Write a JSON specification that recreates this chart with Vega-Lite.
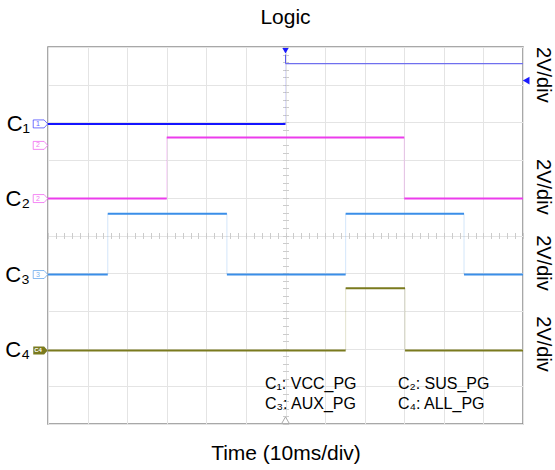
{
  "$schema": "https://vega.github.io/schema/vega-lite/v6.json",
  "width": 475,
  "height": 377,
  "autosize": "none",
  "padding": {"left": 48, "top": 47, "right": 32, "bottom": 46},
  "config": {"view": {"stroke": "#8c8c8c", "strokeWidth": 1.5}, "font": "Liberation Sans"},
  "title": {"text": "Logic", "fontSize": 21, "fontWeight": "normal", "font": "Liberation Sans", "color": "#000000", "offset": 19},
  "datasets": {
    "seg": [
      {"ch": "C1", "x1": -6, "x2": 0, "y": 2.96},
      {"ch": "C1b", "x1": 0, "x2": 6, "y": 4.56},
      {"ch": "C2", "x1": -6, "x2": -3, "y": 0.98},
      {"ch": "C2", "x1": -3, "x2": 3, "y": 2.6},
      {"ch": "C2", "x1": 3, "x2": 6, "y": 0.98},
      {"ch": "C3", "x1": -6, "x2": -4.49, "y": -1.035},
      {"ch": "C3", "x1": -4.49, "x2": -1.48, "y": 0.58},
      {"ch": "C3", "x1": -1.48, "x2": 1.52, "y": -1.035},
      {"ch": "C3", "x1": 1.52, "x2": 4.51, "y": 0.58},
      {"ch": "C3", "x1": 4.51, "x2": 6, "y": -1.035},
      {"ch": "C4", "x1": -6, "x2": 1.52, "y": -3.05},
      {"ch": "C4", "x1": 1.52, "x2": 3.02, "y": -1.4},
      {"ch": "C4", "x1": 3.02, "x2": 6, "y": -3.05}
    ],
    "edge": [
      {"ch": "C1b", "x": 0, "y1": 2.96, "y2": 4.56},
      {"ch": "C2", "x": -3, "y1": 0.98, "y2": 2.6},
      {"ch": "C2", "x": 3, "y1": 0.98, "y2": 2.6},
      {"ch": "C3", "x": -4.49, "y1": -1.035, "y2": 0.58},
      {"ch": "C3", "x": -1.48, "y1": -1.035, "y2": 0.58},
      {"ch": "C3", "x": 1.52, "y1": -1.035, "y2": 0.58},
      {"ch": "C3", "x": 4.51, "y1": -1.035, "y2": 0.58},
      {"ch": "C4", "x": 1.52, "y1": -3.05, "y2": -1.4},
      {"ch": "C4", "x": 3.02, "y1": -3.05, "y2": -1.4}
    ],
    "vdiv": [
      {"lab": "2V/div", "y": 4.26},
      {"lab": "2V/div", "y": 1.29},
      {"lab": "2V/div", "y": -0.73},
      {"lab": "2V/div", "y": -2.88}
    ],
    "names": [
      {"lab": "C₁", "y": 2.96},
      {"lab": "C₂", "y": 0.98},
      {"lab": "C₃", "y": -1.035},
      {"lab": "C₄", "y": -3.05}
    ],
    "legend": [
      {"lab": "C₁: VCC_PG", "x": -0.52, "y": -3.95},
      {"lab": "C₂: SUS_PG", "x": 2.84, "y": -3.95},
      {"lab": "C₃: AUX_PG", "x": -0.52, "y": -4.47},
      {"lab": "C₄: ALL_PG", "x": 2.84, "y": -4.47}
    ],
    "tags": [
      {"ch": "C1", "y": 2.96, "t": "1"},
      {"ch": "C2", "y": 2.39, "t": "2"},
      {"ch": "C2", "y": 0.98, "t": "2"},
      {"ch": "C3", "y": -1.035, "t": "3"}
    ],
    "one": [{"k": 1}]
  },
  "resolve": {"axis": {"x": "independent", "y": "independent"}},
  "layer": [
    {
      "data": {"name": "edge"},
      "mark": {"type": "rule", "strokeWidth": 1, "opacity": 0.22},
      "encoding": {
        "x": {"field": "x", "type": "quantitative", "scale": {"domain": [-6, 6], "nice": false, "zero": false},
          "axis": {"values": [-6, -5, -4, -3, -2, -1, 0, 1, 2, 3, 4, 5, 6], "grid": true, "gridColor": "#e4e4e4", "gridWidth": 1, "labels": false, "ticks": false, "domain": false,
            "title": "Time (10ms/div)", "titleFontSize": 21, "titleFontWeight": "normal", "titleFont": "Liberation Sans", "titleColor": "#000000", "titlePadding": 18}},
        "y": {"field": "y1", "type": "quantitative", "scale": {"domain": [-5, 5], "nice": false, "zero": false},
          "axis": {"values": [-5, -4, -3, -2, -1, 0, 1, 2, 3, 4, 5], "grid": true, "gridColor": "#e4e4e4", "gridWidth": 1, "labels": false, "ticks": false, "domain": false, "title": null}},
        "y2": {"field": "y2"},
        "color": {"field": "ch", "type": "nominal", "scale": {"domain": ["C1", "C1b", "C2", "C3", "C4"], "range": ["#1414ff", "#6f6fee", "#ec3cec", "#3a8ee8", "#7a7a1e"]}, "legend": null}
      }
    },
    {
      "data": {"name": "seg"},
      "mark": {"type": "rule"},
      "encoding": {
        "x": {"field": "x1", "type": "quantitative",
          "axis": {"orient": "bottom", "offset": -188.5, "values": [-6,-5.8,-5.6,-5.4,-5.2,-5,-4.8,-4.6,-4.4,-4.2,-4,-3.8,-3.6,-3.4,-3.2,-3,-2.8,-2.6,-2.4,-2.2,-2,-1.8,-1.6,-1.4,-1.2,-1,-0.8,-0.6,-0.4,-0.2,0,0.2,0.4,0.6,0.8,1,1.2,1.4,1.6,1.8,2,2.2,2.4,2.6,2.8,3,3.2,3.4,3.6,3.8,4,4.2,4.4,4.6,4.8,5,5.2,5.4,5.6,5.8,6], "grid": false, "labels": false, "domain": false, "ticks": true, "tickSize": 3, "tickColor": "#cccccc", "title": null}},
        "x2": {"field": "x2"},
        "y": {"field": "y", "type": "quantitative",
          "axis": {"orient": "left", "offset": -237.5, "values": [-5,-4.8,-4.6,-4.4,-4.2,-4,-3.8,-3.6,-3.4,-3.2,-3,-2.8,-2.6,-2.4,-2.2,-2,-1.8,-1.6,-1.4,-1.2,-1,-0.8,-0.6,-0.4,-0.2,0,0.2,0.4,0.6,0.8,1,1.2,1.4,1.6,1.8,2,2.2,2.4,2.6,2.8,3,3.2,3.4,3.6,3.8,4,4.2,4.4,4.6,4.8,5], "grid": false, "labels": false, "domain": false, "ticks": true, "tickSize": 3, "tickColor": "#cccccc", "title": null}},
        "color": {"field": "ch", "type": "nominal", "legend": null},
        "strokeWidth": {"condition": {"test": "datum.ch === 'C1b'", "value": 1.2}, "value": 2}
      }
    },
    {
      "data": {"name": "legend"},
      "mark": {"type": "text", "align": "left", "baseline": "middle", "fontSize": 16, "font": "Liberation Sans", "color": "#000000"},
      "encoding": {
        "x": {"field": "x", "type": "quantitative",
          "axis": {"orient": "top", "offset": -188.5, "values": [-6,-5.8,-5.6,-5.4,-5.2,-5,-4.8,-4.6,-4.4,-4.2,-4,-3.8,-3.6,-3.4,-3.2,-3,-2.8,-2.6,-2.4,-2.2,-2,-1.8,-1.6,-1.4,-1.2,-1,-0.8,-0.6,-0.4,-0.2,0,0.2,0.4,0.6,0.8,1,1.2,1.4,1.6,1.8,2,2.2,2.4,2.6,2.8,3,3.2,3.4,3.6,3.8,4,4.2,4.4,4.6,4.8,5,5.2,5.4,5.6,5.8,6], "grid": false, "labels": false, "domain": false, "ticks": true, "tickSize": 3, "tickColor": "#cccccc", "title": null}},
        "y": {"field": "y", "type": "quantitative",
          "axis": {"orient": "right", "offset": -237.5, "values": [-5,-4.8,-4.6,-4.4,-4.2,-4,-3.8,-3.6,-3.4,-3.2,-3,-2.8,-2.6,-2.4,-2.2,-2,-1.8,-1.6,-1.4,-1.2,-1,-0.8,-0.6,-0.4,-0.2,0,0.2,0.4,0.6,0.8,1,1.2,1.4,1.6,1.8,2,2.2,2.4,2.6,2.8,3,3.2,3.4,3.6,3.8,4,4.2,4.4,4.6,4.8,5], "grid": false, "labels": false, "domain": false, "ticks": true, "tickSize": 3, "tickColor": "#cccccc", "title": null}},
        "text": {"field": "lab"}
      }
    },
    {
      "data": {"name": "vdiv"},
      "mark": {"type": "text", "align": "center", "baseline": "middle", "angle": 90, "dy": -20, "fontSize": 20, "font": "Liberation Sans", "color": "#000000"},
      "encoding": {
        "x": {"datum": 6, "type": "quantitative", "axis": null},
        "y": {"field": "y", "type": "quantitative", "axis": null},
        "text": {"field": "lab"}
      }
    },
    {
      "data": {"name": "names"},
      "mark": {"type": "text", "align": "right", "baseline": "middle", "dx": -18, "fontSize": 22, "font": "Liberation Sans", "color": "#000000"},
      "encoding": {
        "x": {"datum": -6, "type": "quantitative", "axis": null},
        "y": {"field": "y", "type": "quantitative", "axis": null},
        "text": {"field": "lab"}
      }
    },
    {
      "data": {"name": "tags"},
      "mark": {"type": "point", "shape": "M-1,-0.55L0.5,-0.55L1,0L0.5,0.55L-1,0.55Z", "size": 210, "filled": false, "fill": "#ffffff", "fillOpacity": 1, "strokeWidth": 1, "strokeOpacity": 0.6},
      "encoding": {
        "x": {"datum": -6.19, "type": "quantitative", "axis": null},
        "y": {"field": "y", "type": "quantitative", "axis": null},
        "color": {"field": "ch", "type": "nominal", "legend": null}
      }
    },
    {
      "data": {"name": "tags"},
      "mark": {"type": "text", "align": "center", "baseline": "middle", "dx": -10, "fontSize": 7, "opacity": 0.7},
      "encoding": {
        "x": {"datum": -6, "type": "quantitative", "axis": null},
        "y": {"field": "y", "type": "quantitative", "axis": null},
        "color": {"field": "ch", "type": "nominal", "legend": null},
        "text": {"field": "t"}
      }
    },
    {
      "data": {"name": "one"},
      "mark": {"type": "point", "shape": "M-1,-0.55L0.5,-0.55L1,0L0.5,0.55L-1,0.55Z", "size": 210, "filled": true, "color": "#7a7a1e", "opacity": 1},
      "encoding": {
        "x": {"datum": -6.19, "type": "quantitative", "axis": null},
        "y": {"datum": -3.05, "type": "quantitative", "axis": null}
      }
    },
    {
      "data": {"name": "one"},
      "mark": {"type": "text", "text": "C4", "align": "center", "baseline": "middle", "dx": -10, "fontSize": 6, "fontWeight": "bold", "color": "#ffffff"},
      "encoding": {
        "x": {"datum": -6, "type": "quantitative", "axis": null},
        "y": {"datum": -3.05, "type": "quantitative", "axis": null}
      }
    },
    {
      "data": {"name": "one"},
      "mark": {"type": "point", "shape": "triangle-down", "size": 40, "filled": true, "color": "#1a1aff", "opacity": 1},
      "encoding": {
        "x": {"datum": 0, "type": "quantitative", "axis": null},
        "y": {"datum": 4.9, "type": "quantitative", "axis": null}
      }
    },
    {
      "data": {"name": "one"},
      "mark": {"type": "rule", "color": "#5a5aee", "strokeWidth": 1},
      "encoding": {
        "x": {"datum": 0, "type": "quantitative", "axis": null},
        "y": {"datum": 4.8, "type": "quantitative", "axis": null},
        "y2": {"datum": 4.56}
      }
    },
    {
      "data": {"name": "one"},
      "mark": {"type": "point", "shape": "triangle-left", "size": 60, "filled": true, "color": "#1a1aff", "opacity": 1},
      "encoding": {
        "x": {"datum": 6.08, "type": "quantitative", "axis": null},
        "y": {"datum": 4.11, "type": "quantitative", "axis": null}
      }
    },
    {
      "data": {"name": "one"},
      "mark": {"type": "point", "shape": "triangle-up", "size": 60, "filled": false, "fill": "#ffffff", "color": "#aaaaaa", "strokeWidth": 1, "opacity": 1},
      "encoding": {
        "x": {"datum": 0, "type": "quantitative", "axis": null},
        "y": {"datum": -4.9, "type": "quantitative", "axis": null}
      }
    }
  ]
}
